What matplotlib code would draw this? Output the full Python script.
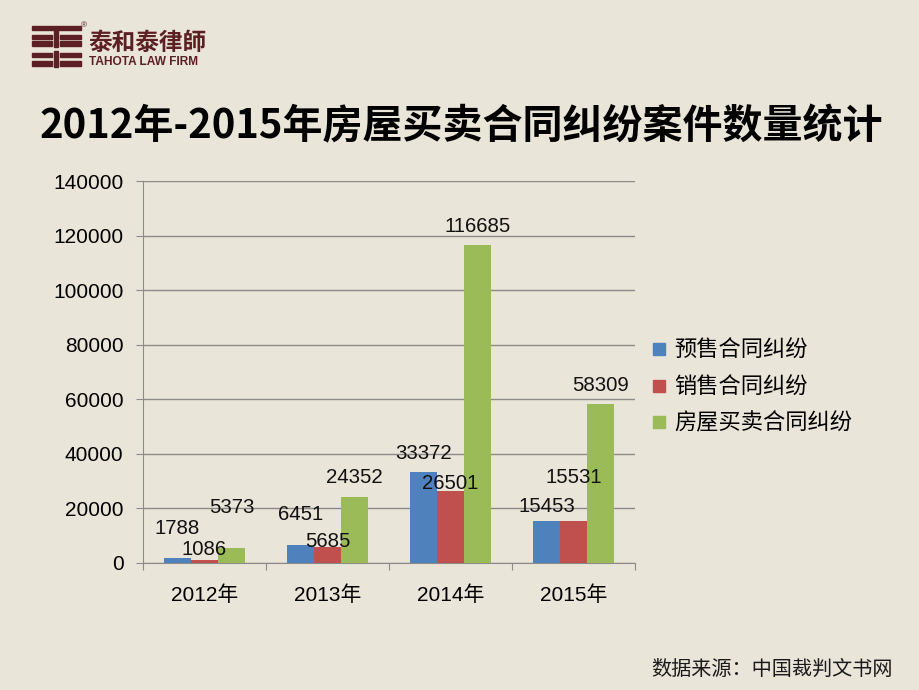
import matplotlib
matplotlib.use('Agg')
import matplotlib.pyplot as plt
from matplotlib.patches import Rectangle
from matplotlib.lines import Line2D
import numpy as np

plt.rcParams['font.family'] = ['Liberation Sans', 'Noto Sans CJK SC', 'DejaVu Sans']

# data
years = ['2012年', '2013年', '2014年', '2015年']
series_names = ['预售合同纠纷', '销售合同纠纷', '房屋买卖合同纠纷']
presale = [1788, 6451, 33372, 15453]
sale = [1086, 5685, 26501, 15531]
house = [5373, 24352, 116685, 58309]
yticks = [0, 20000, 40000, 60000, 80000, 100000, 120000, 140000]

# label offsets above bar top (pixels), as laid out in the original
label_dy = [[30, 31, 18, 14],
            [11, 6, 7, 43],
            [41, 19, 18, 18]]

colors = ['#4F81BD', '#C0504D', '#9BBB59']
bg = '#EAE5D9'
grey = '#8A8A8A'

fig = plt.figure(figsize=(9.2, 6.9), dpi=100, facecolor=bg)
ax = fig.add_axes([143/920, 1-563/690, (635-143)/920, (563-181)/690])
ax.set_facecolor(bg)

x = np.arange(len(years))
w = 0.22
for k, vals in enumerate([presale, sale, house]):
    pos = x + (k-1)*w
    ax.bar(pos, vals, width=w, color=colors[k], zorder=3, label=series_names[k])
    for xi, v, dy in zip(pos, vals, label_dy[k]):
        ax.annotate(str(v), (xi, v), xytext=(0, dy), textcoords='offset pixels',
                    ha='center', va='center', fontsize=14.7, color='#111111', zorder=5)

ax.set_xlim(-0.5, 3.5)
ax.set_ylim(0, 140000)
ax.set_yticks(yticks)
ax.set_yticklabels([str(t) for t in yticks])
ax.yaxis.grid(True, color=grey, lw=1, zorder=0)
ax.set_xticks(np.arange(-0.5, 4, 1), minor=False)
ax.set_xticklabels([])
ax.set_xticks(x, minor=True)
ax.set_xticklabels(years, minor=True)
ax.tick_params(axis='x', which='major', length=5, color=grey, direction='out')
ax.tick_params(axis='x', which='minor', length=0, pad=16, labelsize=15)
ax.tick_params(axis='y', length=5, color=grey, direction='out', pad=9, labelsize=15)
for s in ['top', 'right']:
    ax.spines[s].set_visible(False)
for s in ['left', 'bottom']:
    ax.spines[s].set_color(grey)

handles = [Line2D([], [], marker='s', ls='none', color=c, markersize=8.5) for c in colors]
fig.legend(handles, series_names, loc='center left', bbox_to_anchor=(640/920, 1-387/690),
           frameon=False, prop={'family': 'Noto Sans CJK SC', 'size': 16},
           handlelength=0.75, handletextpad=0.3, labelspacing=0.6, borderpad=0)

# title
fig.text(461/920, 1-127/690, '2012年-2015年房屋买卖合同纠纷案件数量统计',
         ha='center', va='center', fontsize=28.8, fontweight='bold',
         family=['Noto Sans CJK SC'], color='black')

# source
fig.text(893/920, 1-669/690, '数据来源：中国裁判文书网', ha='right', va='center',
         fontsize=14.5, family=['Noto Sans CJK SC'], color='#1a1a1a')

# logo
maroon = '#5C1F24'
def rect(x0, y0, x1, y1):
    fig.patches.append(Rectangle((x0/920, 1-y1/690), (x1-x0)/920, (y1-y0)/690,
                                 transform=fig.transFigure, color=maroon))
rect(32, 26, 81, 30)
for (y0, y1) in [(35, 39), (41, 46), (53, 57), (61, 66)]:
    rect(32, y0, 52, y1)
    rect(60, y0, 81, y1)
rect(54, 30, 58, 47)
rect(54, 51, 58, 67)
fig.text(88/920, 1-43/690, '泰和泰律師', ha='left', va='center', fontsize=17,
         fontweight='bold', family=['Noto Sans CJK SC'], color=maroon)
fig.text(89/920, 1-62/690, 'TAHOTA LAW FIRM', ha='left', va='center', fontsize=8.6,
         fontweight='bold', color=maroon)
fig.text(84/920, 1-26/690, '®', ha='center', va='center', fontsize=6, color=maroon)

fig.savefig('out.png', dpi=100, facecolor=bg)
